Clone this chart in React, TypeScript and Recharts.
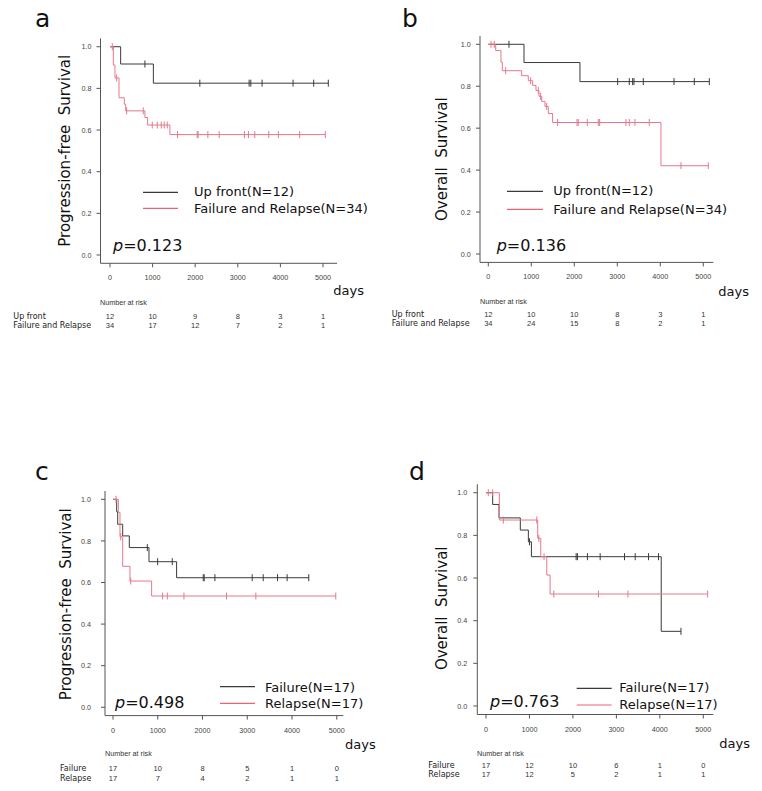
import React from 'react';
import { ComposedChart, Line, Scatter, XAxis, YAxis } from 'recharts';

const W = 762;
const H = 791;

const xTicks = [0, 1000, 2000, 3000, 4000, 5000];
const yTicks = [0, 0.2, 0.4, 0.6, 0.8, 1.0];

// ---------- Panel a : Progression-free survival ----------
const aUpFrontTimes = [0, 250, 1018, 5125];
const aUpFrontSurv = [1.0, 0.917, 0.825, 0.825];
const aUpFrontCensor = [820, 2109, 3266, 3305, 3570, 4297, 4781, 5125];
const aFailRelTimes = [0, 78, 117, 211, 336, 368, 820, 883, 1406, 5055];
const aFailRelSurv = [1.0, 0.912, 0.85, 0.755, 0.724, 0.692, 0.66, 0.624, 0.578, 0.578];
const aFailRelCensor = [54, 157, 391, 781, 992, 1109, 1203, 1273, 1344, 1586, 2047, 2070, 2297, 2563, 3156, 3250, 3398, 3727, 3953, 4453, 5055];
const aRiskUpFront = [12, 10, 9, 8, 3, 1];
const aRiskFailRel = [34, 17, 12, 7, 2, 1];

// ---------- Panel b : Overall survival ----------
const bUpFrontTimes = [0, 830, 2132, 5140];
const bUpFrontSurv = [1.0, 0.913, 0.822, 0.822];
const bUpFrontCensor = [481, 3009, 3279, 3357, 3388, 3605, 4319, 4791, 5140];
const bFailRelTimes = [0, 172, 295, 326, 776, 930, 1032, 1109, 1179, 1241, 1318, 1395, 1496, 4016, 5116];
const bFailRelSurv = [1.0, 0.97, 0.915, 0.874, 0.85, 0.826, 0.804, 0.78, 0.752, 0.728, 0.704, 0.67, 0.627, 0.421, 0.421];
const bFailRelCensor = [63, 140, 404, 985, 1163, 1217, 1357, 1613, 2063, 2093, 2302, 2558, 2590, 3202, 3279, 3411, 3744, 4481, 5116];
const bRiskUpFront = [12, 10, 10, 8, 3, 1];
const bRiskFailRel = [34, 24, 15, 8, 2, 1];

// ---------- Panel c : Progression-free survival ----------
const cFailureTimes = [0, 82, 105, 216, 364, 804, 1421, 4375];
const cFailureSurv = [1.0, 0.94, 0.88, 0.824, 0.768, 0.70, 0.623, 0.623];
const cFailureCensor = [766, 997, 1324, 2016, 2038, 2277, 3110, 3356, 3676, 3891, 4375];
const cRelapseTimes = [0, 119, 156, 216, 379, 863, 4978];
const cRelapseSurv = [1.0, 0.937, 0.82, 0.678, 0.607, 0.535, 0.535];
const cRelapseCensor = [67, 172, 396, 1109, 1213, 1585, 2537, 3192, 4978];
const cRiskFailure = [17, 10, 8, 5, 1, 0];
const cRiskRelapse = [17, 7, 4, 2, 1, 1];

// ---------- Panel d : Overall survival ----------
const dFailureTimes = [0, 154, 300, 790, 975, 1045, 4032, 4486];
const dFailureSurv = [1.0, 0.945, 0.882, 0.825, 0.77, 0.70, 0.35, 0.35];
const dFailureCensor = [1000, 2074, 2104, 2334, 2627, 3187, 3433, 3740, 3970, 4486];
const dRelapseTimes = [0, 307, 1190, 1260, 1398, 1475, 5100];
const dRelapseSurv = [1.0, 0.872, 0.786, 0.70, 0.614, 0.525, 0.525];
const dRelapseCensor = [53, 154, 399, 1168, 1215, 1336, 1560, 2588, 3265, 5100];
const dRiskFailure = [17, 12, 10, 6, 1, 0];
const dRiskRelapse = [17, 12, 5, 2, 1, 1];

const BLACK = '#3a3a3a';
const RED = '#e5788c';
const LEG_RED = '#ec6474';
const AXIS = '#555';
const TICK_TXT = '#444';
const SANS = '"DejaVu Sans", Verdana, sans-serif';
const ARIAL = '"Liberation Sans", Arial, sans-serif';

type Pt = { t: number; s: number };

function steps(times: number[], surv: number[]): Pt[] {
  return times.map((t, i) => ({ t, s: surv[i] }));
}
function survAt(st: Pt[], t: number): number {
  let s = st[0].s;
  for (const p of st) if (p.t <= t) s = p.s;
  return s;
}
function censors(st: Pt[], times: number[]): Pt[] {
  return times.map((t) => ({ t, s: survAt(st, t) }));
}

type Series = { name: string; color: string; steps: Pt[]; censor: Pt[]; risk: number[] };

function makeSeries(name: string, color: string, times: number[], surv: number[], cens: number[], risk: number[]): Series {
  const st = steps(times, surv);
  return { name, color, steps: st, censor: censors(st, cens), risk };
}

const panels = [
  {
    key: 'a',
    box: { L: 100.5, R: 337, T: 38.4, B: 263.3 },
    xDomain: [-223, 5329],
    yGap: 3,
    yLabel: 'Progression-free\u00a0\u00a0Survival',
    yLabelPos: { x: 70, y: 150.8 },
    letter: { x: 35, y: 27 },
    legend: { x1: 143, x2: 178, tx: 194, ly: [192.3, 208.3], ty: [195.5, 212.5], labels: ['Up front(N=12)', 'Failure and Relapse(N=34)'] },
    pval: { x: 113, y: 250.5, text: '=0.123' },
    days: { x: 333.3, y: 294.5 },
    risk: { titleX: 100, titleY: 305, labelX: 13.3, rowY: [319.3, 328.3], labels: ['Up front', 'Failure and Relapse'] },
    series: [
      makeSeries('Up front', BLACK, aUpFrontTimes, aUpFrontSurv, aUpFrontCensor, aRiskUpFront),
      makeSeries('Failure and Relapse', RED, aFailRelTimes, aFailRelSurv, aFailRelCensor, aRiskFailRel),
    ],
  },
  {
    key: 'b',
    box: { L: 480, R: 713.3, T: 35.9, B: 262.4 },
    xDomain: [-193, 5233],
    yGap: 3.3,
    yLabel: 'Overall\u00a0\u00a0Survival',
    yLabelPos: { x: 447, y: 159.2 },
    letter: { x: 402, y: 26.7 },
    legend: { x1: 507, x2: 543, tx: 553.3, ly: [191.3, 209.3], ty: [194.5, 213.5], labels: ['Up front(N=12)', 'Failure and Relapse(N=34)'] },
    pval: { x: 496.7, y: 250.7, text: '=0.136' },
    days: { x: 718.3, y: 296 },
    risk: { titleX: 480, titleY: 303.7, labelX: 391.7, rowY: [317, 326.3], labels: ['Up front', 'Failure and Relapse'] },
    series: [
      makeSeries('Up front', BLACK, bUpFrontTimes, bUpFrontSurv, bUpFrontCensor, bRiskUpFront),
      makeSeries('Failure and Relapse', RED, bFailRelTimes, bFailRelSurv, bFailRelCensor, bRiskFailRel),
    ],
  },
  {
    key: 'c',
    box: { L: 105, R: 343.3, T: 491, B: 715.6 },
    xDomain: [-179, 5146],
    yGap: 8,
    yLabel: 'Progression-free\u00a0\u00a0Survival',
    yLabelPos: { x: 70.7, y: 604.2 },
    letter: { x: 35, y: 480 },
    legend: { x1: 220, x2: 255, tx: 265, ly: [686.7, 703.3], ty: [691.5, 708], labels: ['Failure(N=17)', 'Relapse(N=17)'] },
    pval: { x: 115, y: 708.3, text: '=0.498' },
    days: { x: 345, y: 748.7 },
    risk: { titleX: 105, titleY: 756, labelX: 60, rowY: [771, 781], labels: ['Failure', 'Relapse'] },
    series: [
      makeSeries('Failure', BLACK, cFailureTimes, cFailureSurv, cFailureCensor, cRiskFailure),
      makeSeries('Relapse', RED, cRelapseTimes, cRelapseSurv, cRelapseCensor, cRiskRelapse),
    ],
  },
  {
    key: 'd',
    box: { L: 477.3, R: 713.3, T: 484.2, B: 714.5 },
    xDomain: [-200, 5230],
    yGap: 4,
    yLabel: 'Overall\u00a0\u00a0Survival',
    yLabelPos: { x: 446.5, y: 608.3 },
    letter: { x: 409, y: 480 },
    legend: { x1: 576.7, x2: 611.7, tx: 619.3, ly: [688.3, 705], ty: [692, 709], labels: ['Failure(N=17)', 'Relapse(N=17)'] },
    pval: { x: 490, y: 706.7, text: '=0.763' },
    days: { x: 719.3, y: 748 },
    risk: { titleX: 477, titleY: 756, labelX: 428.3, rowY: [767.7, 776.7], labels: ['Failure', 'Relapse'] },
    series: [
      makeSeries('Failure', BLACK, dFailureTimes, dFailureSurv, dFailureCensor, dRiskFailure),
      makeSeries('Relapse', RED, dRelapseTimes, dRelapseSurv, dRelapseCensor, dRiskRelapse),
    ],
  },
];

function KMPanel({ p }: { p: any }) {
  const margin = {
    top: p.box.T,
    left: p.box.L - 30,
    right: W - p.box.R,
    bottom: H - p.box.B - 20,
  };
  const xTick = (props: any) => {
    const { x, y, payload, index } = props;
    return (
      <g>
        <text x={x} y={y + 11} textAnchor="middle" fontSize={7.2} fontFamily={ARIAL} fill={TICK_TXT}>
          {payload.value}
        </text>
        {p.series.map((s: Series, i: number) => (
          <text key={i} x={x} y={p.risk.rowY[i]} textAnchor="middle" fontSize={7.5} fontFamily={ARIAL} fill="#333">
            {s.risk[index]}
          </text>
        ))}
      </g>
    );
  };
  const yTick = (props: any) => {
    const { x, y, payload } = props;
    return (
      <text x={x - p.yGap} y={y + 2.6} textAnchor="end" fontSize={7.2} fontFamily={ARIAL} fill={TICK_TXT}>
        {Number(payload.value).toFixed(1)}
      </text>
    );
  };
  return (
    <div style={{ position: 'absolute', left: 0, top: 0 }}>
      <ComposedChart width={W} height={H} margin={margin}>
        <XAxis
          type="number"
          dataKey="t"
          domain={p.xDomain}
          allowDataOverflow
          ticks={xTicks}
          interval={0}
          height={20}
          tickSize={4}
          tickLine={{ stroke: AXIS }}
          axisLine={{ stroke: AXIS }}
          tick={xTick}
        />
        <YAxis
          type="number"
          dataKey="s"
          domain={[-0.04, 1.04]}
          allowDataOverflow
          ticks={yTicks}
          interval={0}
          width={30}
          tickSize={4}
          tickLine={{ stroke: AXIS }}
          axisLine={{ stroke: AXIS }}
          tick={yTick}
        />
        {p.series.map((s: Series) => (
          <Line
            key={'l' + s.name}
            data={s.steps}
            dataKey="s"
            type="stepAfter"
            stroke={s.color}
            strokeWidth={1}
            dot={false}
            activeDot={false}
            isAnimationActive={false}
          />
        ))}
        {p.series.map((s: Series) => (
          <Scatter
            key={'c' + s.name}
            data={s.censor}
            dataKey="s"
            isAnimationActive={false}
            shape={(sp: any) => (
              <line x1={sp.cx} x2={sp.cx} y1={sp.cy - 3.5} y2={sp.cy + 3.5} stroke={s.color} strokeWidth={1} />
            )}
          />
        ))}
      </ComposedChart>
    </div>
  );
}

function PanelText({ p }: { p: any }) {
  return (
    <g>
      <text x={p.letter.x} y={p.letter.y} fontSize={25} fontFamily={SANS} fill="#111">
        {p.key}
      </text>
      <text
        transform={`translate(${p.yLabelPos.x},${p.yLabelPos.y}) rotate(-90)`}
        textAnchor="middle"
        fontSize={15}
        fontFamily={SANS}
        fill="#111"
      >
        {p.yLabel}
      </text>
      {p.legend.labels.map((lab: string, i: number) => (
        <g key={i}>
          <line
            x1={p.legend.x1}
            x2={p.legend.x2}
            y1={p.legend.ly[i]}
            y2={p.legend.ly[i]}
            stroke={i === 0 ? BLACK : LEG_RED}
            strokeWidth={1.2}
          />
          <text x={p.legend.tx} y={p.legend.ty[i]} fontSize={13} fontFamily={SANS} fill="#111">
            {lab}
          </text>
        </g>
      ))}
      <text x={p.pval.x} y={p.pval.y} fontSize={16} fontFamily={SANS} fill="#111">
        <tspan fontStyle="italic">p</tspan>
        {p.pval.text}
      </text>
      <text x={p.days.x} y={p.days.y} fontSize={13} fontFamily={SANS} fill="#111">
        days
      </text>
      <text x={p.risk.titleX} y={p.risk.titleY} fontSize={7.2} fontFamily={ARIAL} fill="#333">
        Number at risk
      </text>
      {p.risk.labels.map((lab: string, i: number) => (
        <text key={i} x={p.risk.labelX} y={p.risk.rowY[i]} fontSize={8} fontFamily={SANS} fill="#222">
          {lab}
        </text>
      ))}
    </g>
  );
}

export default function App() {
  return (
    <div style={{ position: 'absolute', left: 0, top: 0, width: W, height: H, background: '#fff', overflow: 'hidden' }}>
      {panels.map((p) => (
        <KMPanel key={p.key} p={p} />
      ))}
      <svg width={W} height={H} style={{ position: 'absolute', left: 0, top: 0, pointerEvents: 'none' }}>
        {panels.map((p) => (
          <PanelText key={p.key} p={p} />
        ))}
      </svg>
    </div>
  );
}
